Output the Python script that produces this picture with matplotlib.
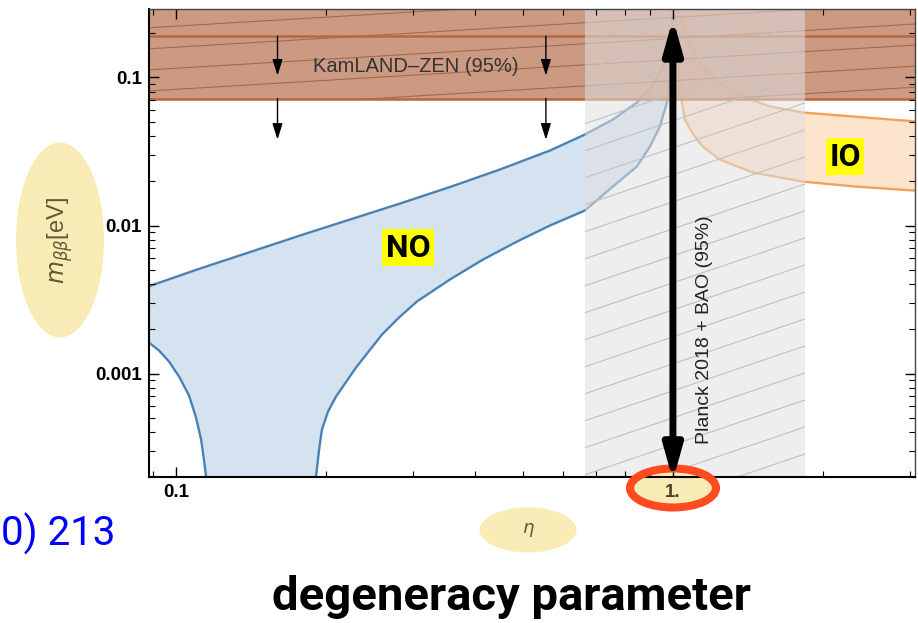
import numpy as np
import matplotlib.pyplot as plt
from matplotlib.patches import Ellipse
from matplotlib.ticker import NullFormatter

plt.rcParams['font.family'] = ['Liberation Sans', 'DejaVu Sans']
plt.rcParams['mathtext.fontset'] = 'dejavusans'
HEAVY = ['Roboto', 'DejaVu Sans']

# normal ordering band: upper edge and the two branches of the lower edge
no_upper_eta = [0.0882, 0.1117, 0.1409, 0.1776, 0.2239, 0.2823, 0.3558, 0.4486, 0.5656,
                0.6651, 0.7571, 0.8466, 0.9116, 0.9547, 0.9954, 0.998]
no_upper_m = [0.00389, 0.00512, 0.00662, 0.00856, 0.01098, 0.01408, 0.0182, 0.0239, 0.0321,
              0.0412, 0.0520, 0.0678, 0.0897, 0.1187, 0.189, 0.30]
no_lower_left_eta = [0.0882, 0.0924, 0.0968, 0.1014, 0.1062, 0.1097, 0.1123, 0.1138,
                     0.1149, 0.1165]
no_lower_left_m = [0.00162, 0.00143, 0.001205, 0.000954, 0.000710, 0.000504, 0.000358,
                   0.000262, 0.000202, 0.000164]
no_lower_right_eta = [0.1900, 0.1913, 0.1940, 0.1966, 0.2022, 0.2099, 0.2302, 0.2597,
                      0.2810, 0.3054, 0.3558, 0.4147, 0.4854, 0.5656, 0.6651, 0.7571,
                      0.8466, 0.8991, 0.9415, 0.9725, 0.9862, 0.994, 0.998, 0.9995]
no_lower_right_m = [0.000164, 0.000202, 0.000307, 0.000419, 0.000554, 0.000700, 0.001098,
                    0.001835, 0.00239, 0.00307, 0.00432, 0.00589, 0.00779, 0.0100,
                    0.01263, 0.01836, 0.02506, 0.0342, 0.0467, 0.0678, 0.0969, 0.15,
                    0.22, 0.30]

# inverted ordering band
io_upper_eta = [1.02, 1.033, 1.067, 1.10, 1.149, 1.22, 1.302, 1.42, 1.567, 1.826, 2.302, 3.07]
io_upper_m = [0.30, 0.27, 0.20, 0.15, 0.1187, 0.097, 0.083, 0.072, 0.0637, 0.058, 0.0545, 0.0505]
io_lower_eta = [1.012, 1.02, 1.033, 1.057, 1.09, 1.118, 1.15, 1.243, 1.449, 1.826, 2.30, 3.07]
io_lower_m = [0.30, 0.15, 0.08, 0.052, 0.043, 0.0381, 0.034, 0.0279, 0.0228, 0.0198, 0.0184, 0.0172]

# experimental bounds
kamland_low, kamland_high = 0.072, 0.19
kamland_arrow_eta = [0.16, 0.555]
kamland_arrow_tip = [0.103, 0.038]
planck_eta = (0.665, 1.84)
planck_arrow_m = (1.9e-4, 0.25)

x_range = (0.0882, 3.07)
y_range = (2.0e-4, 0.29)

blue_line, blue_fill = '#4a82b6', '#d5e3f0'
orange_line, orange_fill = '#f2a258', '#fde4cd'

fig = plt.figure(figsize=(9.18, 6.23), dpi=100)
ax = fig.add_axes([0.1623, 0.2343, 0.8344, 0.7512])
ax.set_xscale('log')
ax.set_yscale('log')
ax.set_xlim(*x_range)
ax.set_ylim(*y_range)

# NO band
no_eta = no_upper_eta + no_lower_right_eta[::-1] + no_lower_left_eta[::-1]
no_m = no_upper_m + no_lower_right_m[::-1] + no_lower_left_m[::-1]
ax.fill(no_eta, no_m, color=blue_fill, lw=0, zorder=1)
for xs, ys in [(no_upper_eta, no_upper_m), (no_lower_left_eta, no_lower_left_m),
               (no_lower_right_eta, no_lower_right_m)]:
    ax.plot(xs, ys, color=blue_line, lw=1.7, zorder=1.2)

# IO band
ax.fill(io_upper_eta + io_lower_eta[::-1], io_upper_m + io_lower_m[::-1],
        color=orange_fill, lw=0, zorder=1)
ax.plot(io_upper_eta, io_upper_m, color=orange_line, lw=1.7, zorder=1.2)
ax.plot(io_lower_eta, io_lower_m, color=orange_line, lw=1.7, zorder=1.2)

# KamLAND-Zen excluded region with shallow hatching
band = ax.axhspan(kamland_low, y_range[1], color='#c4896c', alpha=0.85, lw=0, zorder=1.3)
for c in np.arange(-0.3, 1.2, 0.045):
    ln, = ax.plot([0, 1], [c, c + 0.098], transform=ax.transAxes,
                  color='#8a4a2a', lw=0.8, alpha=0.6, zorder=1.35)
    ln.set_clip_path(band)
for level in (kamland_low, kamland_high):
    ax.axhline(level, color='#b8683f', lw=1.8, zorder=1.4)
ax.text(0.304, 0.118, 'KamLAND\u2013ZEN (95%)', fontsize=14.5, color='#333333',
        ha='center', va='center', zorder=4)
arrow_kw = dict(arrowstyle='-|>,head_length=0.7,head_width=0.22',
                mutation_scale=14, color='k', lw=1, shrinkA=0, shrinkB=0)
for eta in kamland_arrow_eta:
    ax.annotate('', xy=(eta, kamland_arrow_tip[0]), xytext=(eta, kamland_high),
                arrowprops=arrow_kw, zorder=4)
    ax.annotate('', xy=(eta, kamland_arrow_tip[1]), xytext=(eta, kamland_low),
                arrowprops=arrow_kw, zorder=4)

# Planck 2018 + BAO band with steeper hatching
planck = ax.axvspan(*planck_eta, color='#e0e0e0', alpha=0.55, lw=0, zorder=1.45)
for c in np.arange(-0.6, 1.05, 0.0577):
    ln, = ax.plot([0, 1], [c, c + 0.556], transform=ax.transAxes,
                  color='#c0c0c0', lw=0.8, zorder=1.47)
    ln.set_clip_path(planck)
ax.annotate('', xy=(1.0, planck_arrow_m[1]), xytext=(1.0, planck_arrow_m[0]),
            arrowprops=dict(arrowstyle='<|-|>,head_length=1.0,head_width=0.28',
                            mutation_scale=20, color='k', lw=5, shrinkA=0, shrinkB=0),
            annotation_clip=False, zorder=6)
ax.text(1.16, 0.00198, 'Planck 2018 + BAO (95%)', rotation=90, fontsize=14,
        color='#222222', ha='center', va='center', zorder=4)

# ordering labels
box = dict(boxstyle='square,pad=0.1', facecolor='#ffff00', edgecolor='none')
ax.text(0.293, 0.0071, 'NO', family=HEAVY, fontweight='bold', fontsize=23,
        ha='center', va='center', bbox=box, zorder=5)
ax.text(2.22, 0.0292, 'IO', family=HEAVY, fontweight='bold', fontsize=23,
        ha='center', va='center', bbox=box, zorder=5)

# axes, ticks
ax.set_xticks([0.1, 1.0], labels=['0.1', '1.'])
ax.set_yticks([0.001, 0.01, 0.1], labels=['0.001', '0.01', '0.1'])
ax.xaxis.set_minor_formatter(NullFormatter())
ax.yaxis.set_minor_formatter(NullFormatter())
ax.tick_params(which='both', direction='in', top=True, right=True)
ax.tick_params(which='major', length=7, width=1, labelsize=13.5, pad=5)
ax.tick_params(which='minor', length=4, width=0.8)
for lbl in ax.get_xticklabels() + ax.get_yticklabels():
    lbl.set_fontweight('bold')
ax.get_xticklabels()[1].set_color('#4a4428')
for side in ('left', 'bottom'):
    ax.spines[side].set_linewidth(1.5)
for side in ('top', 'right'):
    ax.spines[side].set_color('#444444')
    ax.spines[side].set_linewidth(1.0)

ax.set_ylabel(r'$m_{\beta\beta}$[eV]', fontsize=17, color='#5f5a35', va='center')
ax.yaxis.set_label_coords(-0.116, 0.506)
ax.set_xlabel(r'$\eta$', fontsize=13, color='#5f5a35', va='center')
ax.xaxis.set_label_coords(0.495, -0.113)


def highlight(cx, cy, w, h, **kw):
    # ellipse placed in figure pixels, drawn under the axis labels
    e = Ellipse((cx / 918, 1 - cy / 623), w / 918, h / 623,
                transform=fig.transFigure, clip_on=False, **kw)
    ax.add_patch(e)


yellow = '#f9ebb5'
highlight(60, 240, 88, 195, facecolor=yellow, edgecolor='none', zorder=1.48)
highlight(528, 530, 97, 45, facecolor=yellow, edgecolor='none', zorder=1.48)
highlight(673, 488, 86, 39, facecolor=yellow, edgecolor='none', zorder=1.48)
highlight(673, 488, 86, 39, facecolor='none', edgecolor='#ff4b1f', lw=5.8, zorder=3)

ax.set_xlim(*x_range)
ax.set_ylim(*y_range)

fig.text(0.001, 0.124, '0) 213', family=HEAVY, fontsize=29, color='#0000ff',
         ha='left', va='baseline')
fig.text(0.5566, 0.021, 'degeneracy parameter', family=HEAVY, fontweight='bold',
         fontsize=34, color='black', ha='center', va='baseline')

fig.savefig('out.png', dpi=100)
